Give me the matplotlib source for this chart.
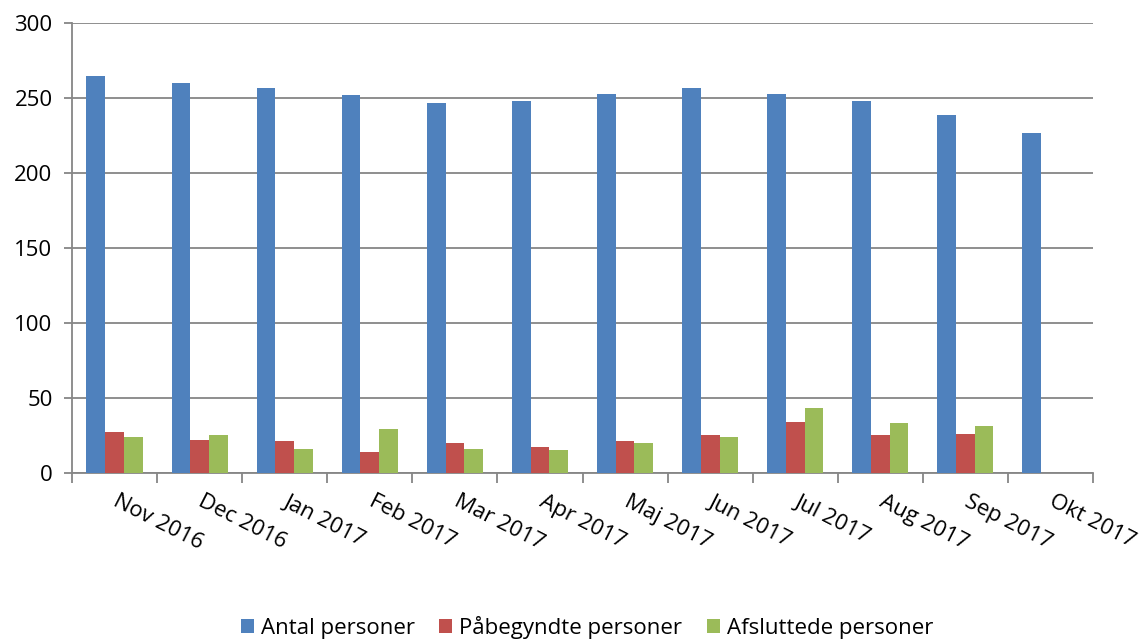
import numpy as np
import matplotlib
matplotlib.use("Agg")
import matplotlib.pyplot as plt
from matplotlib.ticker import FixedLocator, NullFormatter

months = ["Nov 2016", "Dec 2016", "Jan 2017", "Feb 2017", "Mar 2017", "Apr 2017",
          "Maj 2017", "Jun 2017", "Jul 2017", "Aug 2017", "Sep 2017", "Okt 2017"]
antal = [265, 260, 257, 252, 247, 248, 253, 257, 253, 248, 239, 227]
paabegyndte = [27, 22, 21, 14, 20, 17, 21, 25, 34, 25, 26, 0]
afsluttede = [24, 25, 16, 29, 16, 15, 20, 24, 43, 33, 31, 0]
series_names = ["Antal personer", "Påbegyndte personer", "Afsluttede personer"]
colors = ["#4F81BD", "#C0504D", "#9BBB59"]

plt.rcParams["font.family"] = ["Open Sans", "DejaVu Sans"]

fig = plt.figure(figsize=(11.46, 6.41), dpi=100)
ax = fig.add_axes([0.0628, 0.2621, 0.891, 0.702])

x = np.arange(len(months))
w = 0.22
for k, (vals, name, c) in enumerate(zip([antal, paabegyndte, afsluttede], series_names, colors)):
    ax.bar(x + (k - 1) * w, vals, width=w, color=c, label=name, zorder=3)

grid_c = "#868686"
fs = 16
ax.set_xlim(-0.5, len(months) - 0.5)
ax.set_ylim(0, 300)
ax.set_yticks(range(0, 301, 50))
ax.yaxis.grid(True, color=grid_c, linewidth=1.3, zorder=0)
ax.tick_params(axis="y", labelsize=fs, length=6, width=1.3, color=grid_c, pad=8)

ax.xaxis.set_major_locator(FixedLocator(np.arange(-0.5, len(months), 1.0)))
ax.xaxis.set_major_formatter(NullFormatter())
ax.tick_params(axis="x", which="major", length=7, width=1.3, color=grid_c)
ax.set_xticks(x + 0.06, minor=True)
ax.set_xticklabels(months, minor=True, rotation=-27, ha="left", va="top",
                   rotation_mode="anchor", fontsize=fs)
ax.tick_params(axis="x", which="minor", length=0, pad=13)

for s in ["top", "right"]:
    ax.spines[s].set_visible(False)
for s in ["left", "bottom"]:
    ax.spines[s].set_color(grid_c)
    ax.spines[s].set_linewidth(1.3)

fig.legend(loc="center", bbox_to_anchor=(0.512, 0.021), ncol=3, frameon=False,
           fontsize=fs, handlelength=0.6, handleheight=0.6, handletextpad=0.3,
           columnspacing=1.1)

fig.savefig("out.png", dpi=100)
